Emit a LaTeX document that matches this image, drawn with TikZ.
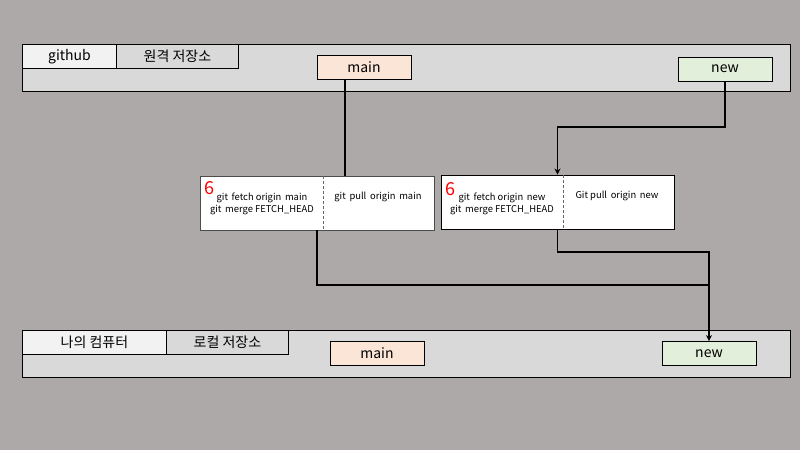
\documentclass[tikz,border=0pt]{standalone}
\usepackage{fontspec}
\setmainfont{Noto Sans CJK KR}
\usetikzlibrary{arrows.meta}
\definecolor{bg}{RGB}{173,169,168}
\definecolor{band}{RGB}{217,217,217}
\definecolor{lite}{RGB}{242,242,242}
\definecolor{peach}{RGB}{251,229,214}
\definecolor{mint}{RGB}{226,239,218}
\tikzset{
  band/.style={draw=black, fill=band, line width=0.9pt, anchor=north west, inner sep=0pt},
  tab/.style={draw=black, line width=0.9pt, minimum height=24pt, inner sep=0pt, font=\fontsize{14}{15}\selectfont},
  branch/.style={draw=black, line width=0.9pt, minimum width=94pt, minimum height=24pt, inner sep=0pt, font=\fontsize{14}{15}\selectfont},
  cmdbox/.style={draw=black, fill=white, line width=0.9pt, minimum width=234pt, minimum height=54pt, inner sep=0pt},
  cmd/.style={font=\fontsize{9.4}{12}\selectfont, align=center, inner sep=0pt},
  six/.style={text=red, font=\fontsize{18}{18}\selectfont, inner sep=0pt},
  conn/.style={line width=1.8pt, draw=black},
  tip/.style={-{Stealth[length=6pt,width=6pt]}}
}
\begin{document}
\begin{tikzpicture}[x=1pt,y=-1pt]
\fill[bg] (0,0) rectangle (800,450);
\useasboundingbox (0,0) rectangle (800,450);
% top band
\node[band, minimum width=768pt, minimum height=47pt] (top) at (22,44) {};
\node[tab, fill=lite, minimum width=94pt, anchor=north west] (gh) at (22,44) {github};
\node[tab, fill=band, minimum width=122pt, anchor=north west] (remote) at (116,44) {원격 저장소};
\node[branch, fill=peach] (mt) at (364,67) {main};
\node[branch, fill=mint] (nt) at (725,69) {new};
% bottom band
\node[band, minimum width=768pt, minimum height=47pt] (bot) at (22,330) {};
\node[tab, fill=lite, minimum width=144pt, anchor=north west] (pc) at (22,330) {나의 컴퓨터};
\node[tab, fill=band, minimum width=122pt, anchor=north west] (local) at (166,330) {로컬 저장소};
\node[branch, fill=peach] (mb) at (377,353.5) {main};
\node[branch, fill=mint] (nb) at (709,353.5) {new};
% command boxes
\node[cmdbox, draw=black!70] (lb) at (317,203) {};
\node[cmdbox, minimum width=233pt] (rb) at (557.5,202) {};
\draw[densely dashed, black!60, line width=0.6pt] (323,176) -- (323,230);
\draw[densely dashed, black!60, line width=0.6pt] (563,175) -- (563,229);
\node[six] (s1) at (209,188) {6};
\node[cmd] (c1) at (262,204) {git\, fetch origin\, main\\git\, merge FETCH\_HEAD};
\node[cmd] (p1) at (378,197) {git\, pull\, origin\, main};
\node[six] (s2) at (450,189) {6};
\node[cmd] (c2) at (502,203.5) {git\, fetch origin\, new\\git\, merge FETCH\_HEAD};
\node[cmd] (p2) at (617,196) {Git pull\, origin\, new};
% connectors
\coordinate (a1) at (345,176);
\coordinate (j0) at (725,127);
\coordinate (j1) at (709,285);
\coordinate (j2) at (709,252);
\draw[conn] (mt.south -| a1) -- (a1);
\draw[conn, tip] (nt.south) -- (j0) -| (rb.north);
\draw[conn] (lb.south) |- (j1);
\draw[conn] (rb.south) |- (j2) -- (j1);
\draw[conn, tip] (j1) -- (nb.north);
\end{tikzpicture}
\end{document}
